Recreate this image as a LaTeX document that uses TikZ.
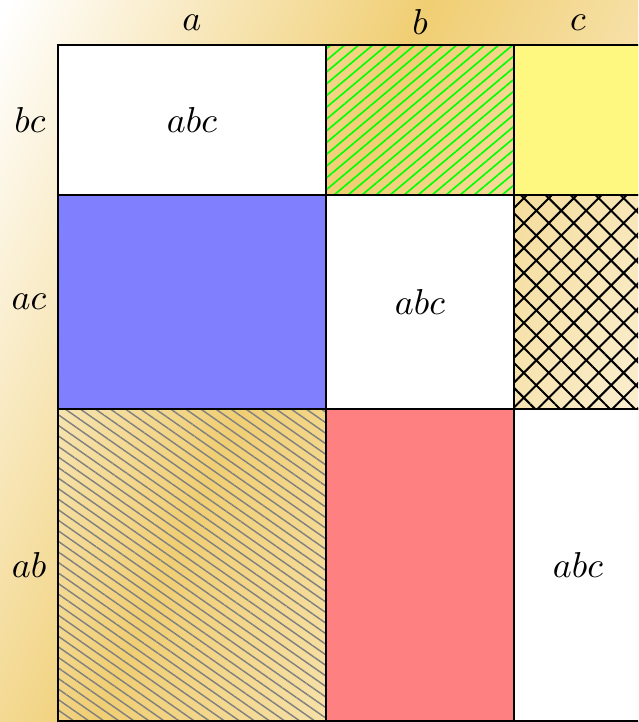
\documentclass[tikz,border=0pt]{standalone}
\usetikzlibrary{patterns.meta}
\definecolor{bggold}{RGB}{240,206,115}
\definecolor{bgfar}{RGB}{254,250,240}
% inner 25bp..75bp of the shading covers u = 0..1000 px
\pgfdeclarehorizontalshading{bgshade}{100bp}{color(0bp)=(white); color(25.5bp)=(white); color(44.5bp)=(bggold); color(69bp)=(bgfar); color(100bp)=(bgfar)}
\tikzset{
  gridcell/.style={draw=black, line width=0.55pt},
  lbl/.style={inner sep=0pt},
  greenhatch/.style={pattern={Lines[angle=40,distance=2.5pt,line width=0.45pt]}, pattern color=green},
  grayhatch/.style={pattern={Lines[angle=-35,distance=2.4pt,line width=0.4pt]}, pattern color=gray},
  blackcross/.style={pattern={Hatch[angle=45,distance=4.9pt,line width=0.55pt]}, pattern color=black}
}
\begin{document}
\begin{tikzpicture}[x=0.2778pt, y=-0.2778pt]
\useasboundingbox (0,0) rectangle (638,722);
\begin{scope}
\clip (0,0) rectangle (638,722);
\begin{scope}[transform canvas={rotate=-24.94}]
\shade[shading=bgshade] (0,-300) rectangle (1000,700);
\end{scope}
% row bc
\draw[gridcell, fill=white] (58,45) rectangle (326,195);
\draw[gridcell, greenhatch] (326,45) rectangle (514,195);
\draw[gridcell, fill=yellow!50] (514,45) rectangle (642,195);
% row ac
\draw[gridcell, fill=blue!50] (58,195) rectangle (326,409);
\draw[gridcell, fill=white] (326,195) rectangle (514,409);
\draw[gridcell, blackcross] (514,195) rectangle (642,409);
% row ab
\draw[gridcell, grayhatch] (58,409) rectangle (326,721);
\draw[gridcell, fill=red!50] (326,409) rectangle (514,721);
\draw[gridcell, fill=white] (514,409) rectangle (642,721);
\end{scope}
% column labels
\node[lbl] (ca) at (192,22.5) {$a$};
\node[lbl] (cb) at (420,22.5) {$b$};
\node[lbl] (cc) at (578,22.5) {$c$};
% row labels
\node[lbl] (rbc) at (30,120) {$bc$};
\node[lbl] (rac) at (29,302) {$ac$};
\node[lbl] (rab) at (29,565) {$ab$};
% cell texts
\node[lbl] (t1) at (192,120) {$abc$};
\node[lbl] (t2) at (420,302) {$abc$};
\node[lbl] (t3) at (578,565) {$abc$};
\end{tikzpicture}
\end{document}
